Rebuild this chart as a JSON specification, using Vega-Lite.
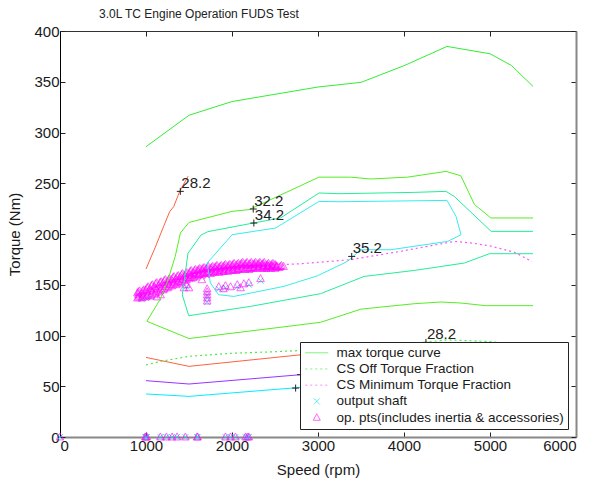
{
  "$schema": "https://vega.github.io/schema/vega-lite/v6.json",
  "autosize": "none",
  "width": 516,
  "height": 406,
  "padding": {"left": 60, "top": 31, "right": 17, "bottom": 48},
  "background": "white",
  "config": {
    "view": {"stroke": null},
    "font": "Liberation Sans",
    "axis": {
      "grid": false,
      "tickSize": -5,
      "tickColor": "#222",
      "domainColor": "#222",
      "labelFont": "Liberation Sans",
      "labelFontSize": 15,
      "labelColor": "#1a1a1a",
      "labelPadding": 6,
      "titleFont": "Liberation Sans",
      "titleFontSize": 15,
      "titleFontWeight": "normal",
      "titleColor": "#1a1a1a",
      "format": "d"
    }
  },
  "title": {
    "text": "3.0L TC Engine Operation FUDS Test",
    "anchor": "start",
    "frame": "group",
    "dx": 39,
    "offset": -6,
    "baseline": "alphabetic",
    "font": "Liberation Sans",
    "fontSize": 12,
    "fontWeight": "normal",
    "color": "#222"
  },
  "datasets": {
    "maxT": [
      {"rpm": 1000, "nm": 286}, {"rpm": 1500, "nm": 317}, {"rpm": 2000, "nm": 330.5},
      {"rpm": 3000, "nm": 344.8}, {"rpm": 3500, "nm": 349.4}, {"rpm": 4000, "nm": 365.8},
      {"rpm": 4500, "nm": 384.8}, {"rpm": 5000, "nm": 377.6}, {"rpm": 5250, "nm": 366},
      {"rpm": 5500, "nm": 345.4}
    ],
    "csOff": [
      {"rpm": 1000, "nm": 71}, {"rpm": 1200, "nm": 75}, {"rpm": 1500, "nm": 79.5},
      {"rpm": 2000, "nm": 82.5}, {"rpm": 2500, "nm": 84}, {"rpm": 3000, "nm": 86},
      {"rpm": 3500, "nm": 88.5}, {"rpm": 4000, "nm": 91}, {"rpm": 4500, "nm": 95.7},
      {"rpm": 5000, "nm": 94}, {"rpm": 5250, "nm": 91.5}, {"rpm": 5500, "nm": 87}
    ],
    "csMin": [
      {"rpm": 1000, "nm": 138}, {"rpm": 1500, "nm": 152}, {"rpm": 2000, "nm": 163},
      {"rpm": 2643, "nm": 170}, {"rpm": 2798, "nm": 170.7}, {"rpm": 3381, "nm": 174.7},
      {"rpm": 3963, "nm": 183}, {"rpm": 4585, "nm": 192.7}, {"rpm": 4799, "nm": 191},
      {"rpm": 5013, "nm": 188}, {"rpm": 5284, "nm": 182}, {"rpm": 5487, "nm": 173}
    ],
    "contours": [
      {"id": "r1", "ord": 1, "rpm": 1000, "nm": 165.5}, {"id": "r1", "ord": 2, "rpm": 1108, "nm": 187},
      {"id": "r1", "ord": 3, "rpm": 1205, "nm": 207.5}, {"id": "r1", "ord": 4, "rpm": 1275, "nm": 222},
      {"id": "r1", "ord": 5, "rpm": 1322, "nm": 227}, {"id": "r1", "ord": 6, "rpm": 1392, "nm": 242},
      {"id": "r1", "ord": 7, "rpm": 1490, "nm": 257},

      {"id": "g32", "ord": 1, "rpm": 5500, "nm": 129.4}, {"id": "g32", "ord": 2, "rpm": 4950, "nm": 129.4},
      {"id": "g32", "ord": 3, "rpm": 4663, "nm": 132}, {"id": "g32", "ord": 4, "rpm": 4430, "nm": 133},
      {"id": "g32", "ord": 5, "rpm": 4119, "nm": 131.3}, {"id": "g32", "ord": 6, "rpm": 3500, "nm": 126},
      {"id": "g32", "ord": 7, "rpm": 3030, "nm": 113}, {"id": "g32", "ord": 8, "rpm": 1500, "nm": 97},
      {"id": "g32", "ord": 9, "rpm": 1010, "nm": 114}, {"id": "g32", "ord": 10, "rpm": 1160, "nm": 135},
      {"id": "g32", "ord": 11, "rpm": 1245, "nm": 152}, {"id": "g32", "ord": 12, "rpm": 1340, "nm": 178},
      {"id": "g32", "ord": 13, "rpm": 1400, "nm": 201}, {"id": "g32", "ord": 14, "rpm": 1500, "nm": 211.4},
      {"id": "g32", "ord": 15, "rpm": 2000, "nm": 222.3}, {"id": "g32", "ord": 16, "rpm": 2200, "nm": 224},
      {"id": "g32", "ord": 17, "rpm": 3010, "nm": 256}, {"id": "g32", "ord": 18, "rpm": 3380, "nm": 256},
      {"id": "g32", "ord": 19, "rpm": 3610, "nm": 254.2}, {"id": "g32", "ord": 20, "rpm": 4040, "nm": 256},
      {"id": "g32", "ord": 21, "rpm": 4490, "nm": 261.7}, {"id": "g32", "ord": 22, "rpm": 4660, "nm": 257.4},
      {"id": "g32", "ord": 23, "rpm": 4820, "nm": 229}, {"id": "g32", "ord": 24, "rpm": 5010, "nm": 215.8},
      {"id": "g32", "ord": 25, "rpm": 5500, "nm": 215.8},

      {"id": "t34", "ord": 1, "rpm": 5500, "nm": 180.6}, {"id": "t34", "ord": 2, "rpm": 4993, "nm": 180.6},
      {"id": "t34", "ord": 3, "rpm": 4702, "nm": 171.4}, {"id": "t34", "ord": 4, "rpm": 4119, "nm": 164.1},
      {"id": "t34", "ord": 5, "rpm": 3536, "nm": 158.2}, {"id": "t34", "ord": 6, "rpm": 3030, "nm": 141.2},
      {"id": "t34", "ord": 7, "rpm": 2216, "nm": 128.7}, {"id": "t34", "ord": 8, "rpm": 1497, "nm": 119.5},
      {"id": "t34", "ord": 9, "rpm": 1422, "nm": 140}, {"id": "t34", "ord": 10, "rpm": 1488, "nm": 181},
      {"id": "t34", "ord": 11, "rpm": 1640, "nm": 199}, {"id": "t34", "ord": 12, "rpm": 1720, "nm": 202.3},
      {"id": "t34", "ord": 13, "rpm": 2196, "nm": 210}, {"id": "t34", "ord": 14, "rpm": 2565, "nm": 215.8},
      {"id": "t34", "ord": 15, "rpm": 3012, "nm": 240.4}, {"id": "t34", "ord": 16, "rpm": 3245, "nm": 239.7},
      {"id": "t34", "ord": 17, "rpm": 4119, "nm": 241}, {"id": "t34", "ord": 18, "rpm": 4488, "nm": 242},
      {"id": "t34", "ord": 19, "rpm": 4585, "nm": 237}, {"id": "t34", "ord": 20, "rpm": 5013, "nm": 202.6},
      {"id": "t34", "ord": 21, "rpm": 5500, "nm": 202.6},

      {"id": "c35", "ord": 1, "rpm": 1711, "nm": 171.4}, {"id": "c35", "ord": 2, "rpm": 2002, "nm": 199.3},
      {"id": "c35", "ord": 3, "rpm": 2507, "nm": 205.9}, {"id": "c35", "ord": 4, "rpm": 3012, "nm": 232.1},
      {"id": "c35", "ord": 5, "rpm": 3245, "nm": 231.8}, {"id": "c35", "ord": 6, "rpm": 4500, "nm": 233.1},
      {"id": "c35", "ord": 7, "rpm": 4605, "nm": 217.3}, {"id": "c35", "ord": 8, "rpm": 4663, "nm": 199.3},
      {"id": "c35", "ord": 9, "rpm": 4508, "nm": 192.7}, {"id": "c35", "ord": 10, "rpm": 3846, "nm": 184.5},
      {"id": "c35", "ord": 11, "rpm": 3497, "nm": 184.5}, {"id": "c35", "ord": 12, "rpm": 3343, "nm": 173},
      {"id": "c35", "ord": 13, "rpm": 2993, "nm": 158.8}, {"id": "c35", "ord": 14, "rpm": 2604, "nm": 148.4},
      {"id": "c35", "ord": 15, "rpm": 2021, "nm": 138.5}, {"id": "c35", "ord": 16, "rpm": 1845, "nm": 140.2},
      {"id": "c35", "ord": 17, "rpm": 1749, "nm": 151.7}, {"id": "c35", "ord": 18, "rpm": 1711, "nm": 171.4},

      {"id": "r2", "ord": 1, "rpm": 1000, "nm": 78.4}, {"id": "r2", "ord": 2, "rpm": 1500, "nm": 69.6},
      {"id": "r2", "ord": 3, "rpm": 2800, "nm": 81}, {"id": "r2", "ord": 4, "rpm": 3500, "nm": 83.5},
      {"id": "r2", "ord": 5, "rpm": 4500, "nm": 87}, {"id": "r2", "ord": 6, "rpm": 5500, "nm": 86},

      {"id": "p", "ord": 1, "rpm": 1000, "nm": 55.5}, {"id": "p", "ord": 2, "rpm": 1500, "nm": 52.2},
      {"id": "p", "ord": 3, "rpm": 2800, "nm": 61.4}, {"id": "p", "ord": 4, "rpm": 3500, "nm": 64},
      {"id": "p", "ord": 5, "rpm": 4500, "nm": 67}, {"id": "p", "ord": 6, "rpm": 5500, "nm": 68},

      {"id": "cl", "ord": 1, "rpm": 1000, "nm": 42.4}, {"id": "cl", "ord": 2, "rpm": 1500, "nm": 40},
      {"id": "cl", "ord": 3, "rpm": 2800, "nm": 48.9}, {"id": "cl", "ord": 4, "rpm": 3500, "nm": 51},
      {"id": "cl", "ord": 5, "rpm": 4500, "nm": 54}, {"id": "cl", "ord": 6, "rpm": 5500, "nm": 55}
    ],
    "ops": [
      {"rpm":900,"nm":137},{"rpm":925,"nm":139},{"rpm":900,"nm":142},{"rpm":925,"nm":144},
      {"rpm":950,"nm":137},{"rpm":975,"nm":140},{"rpm":950,"nm":142},{"rpm":975,"nm":145},
      {"rpm":1000,"nm":138},{"rpm":1025,"nm":141},{"rpm":1000,"nm":145},{"rpm":1025,"nm":148},
      {"rpm":1050,"nm":139},{"rpm":1075,"nm":143},{"rpm":1050,"nm":146},{"rpm":1075,"nm":150},
      {"rpm":1100,"nm":141},{"rpm":1125,"nm":145},{"rpm":1100,"nm":148},{"rpm":1125,"nm":152},
      {"rpm":1150,"nm":143},{"rpm":1175,"nm":146},{"rpm":1150,"nm":150},{"rpm":1175,"nm":153},
      {"rpm":1200,"nm":145},{"rpm":1225,"nm":148},{"rpm":1200,"nm":152},{"rpm":1225,"nm":155},
      {"rpm":1250,"nm":147},{"rpm":1275,"nm":150},{"rpm":1250,"nm":153},{"rpm":1275,"nm":156},
      {"rpm":1300,"nm":149},{"rpm":1325,"nm":152},{"rpm":1300,"nm":155},{"rpm":1325,"nm":158},
      {"rpm":1350,"nm":150},{"rpm":1375,"nm":153},{"rpm":1350,"nm":156},{"rpm":1375,"nm":159},
      {"rpm":1400,"nm":152},{"rpm":1425,"nm":155},{"rpm":1400,"nm":158},{"rpm":1425,"nm":161},
      {"rpm":1450,"nm":154},{"rpm":1475,"nm":157},{"rpm":1450,"nm":159},{"rpm":1475,"nm":162},
      {"rpm":1500,"nm":156},{"rpm":1525,"nm":159},{"rpm":1500,"nm":161},{"rpm":1525,"nm":164},
      {"rpm":1550,"nm":157},{"rpm":1575,"nm":160},{"rpm":1550,"nm":162},{"rpm":1575,"nm":165},
      {"rpm":1600,"nm":159},{"rpm":1625,"nm":161},{"rpm":1600,"nm":164},{"rpm":1625,"nm":166},
      {"rpm":1650,"nm":160},{"rpm":1675,"nm":162},{"rpm":1650,"nm":165},{"rpm":1675,"nm":167},
      {"rpm":1700,"nm":161},{"rpm":1725,"nm":163},{"rpm":1700,"nm":166},{"rpm":1725,"nm":168},
      {"rpm":1750,"nm":161},{"rpm":1775,"nm":163},{"rpm":1750,"nm":166},{"rpm":1775,"nm":168},
      {"rpm":1800,"nm":162},{"rpm":1825,"nm":164},{"rpm":1800,"nm":167},{"rpm":1825,"nm":169},
      {"rpm":1850,"nm":162},{"rpm":1875,"nm":164},{"rpm":1850,"nm":167},{"rpm":1875,"nm":169},
      {"rpm":1900,"nm":163},{"rpm":1925,"nm":165},{"rpm":1900,"nm":168},{"rpm":1925,"nm":170},
      {"rpm":1950,"nm":163},{"rpm":1975,"nm":165},{"rpm":1950,"nm":168},{"rpm":1975,"nm":170},
      {"rpm":2000,"nm":164},{"rpm":2025,"nm":166},{"rpm":2000,"nm":169},{"rpm":2025,"nm":171},
      {"rpm":2050,"nm":164},{"rpm":2075,"nm":166},{"rpm":2050,"nm":169},{"rpm":2075,"nm":171},
      {"rpm":2100,"nm":165},{"rpm":2125,"nm":167},{"rpm":2100,"nm":170},{"rpm":2125,"nm":172},
      {"rpm":2150,"nm":165},{"rpm":2175,"nm":167},{"rpm":2150,"nm":170},{"rpm":2175,"nm":172},
      {"rpm":2200,"nm":165},{"rpm":2225,"nm":167},{"rpm":2200,"nm":170},{"rpm":2225,"nm":172},
      {"rpm":2250,"nm":166},{"rpm":2275,"nm":168},{"rpm":2250,"nm":170},{"rpm":2275,"nm":172},
      {"rpm":2300,"nm":166},{"rpm":2325,"nm":168},{"rpm":2300,"nm":170},{"rpm":2325,"nm":172},
      {"rpm":2350,"nm":166},{"rpm":2375,"nm":168},{"rpm":2350,"nm":170},{"rpm":2375,"nm":172},
      {"rpm":2400,"nm":166},{"rpm":2425,"nm":168},{"rpm":2400,"nm":169},{"rpm":2425,"nm":171},
      {"rpm":2450,"nm":166},{"rpm":2475,"nm":168},{"rpm":2450,"nm":169},{"rpm":2475,"nm":171},
      {"rpm":2500,"nm":166},{"rpm":2525,"nm":168},{"rpm":2500,"nm":170},
      {"rpm":2550,"nm":167},{"rpm":2575,"nm":169},{"rpm":2600,"nm":168},
      {"rpm":912,"nm":138},{"rpm":912,"nm":140.5},{"rpm":912,"nm":143},
      {"rpm":962,"nm":138},{"rpm":962,"nm":141},{"rpm":962,"nm":144},
      {"rpm":1012,"nm":139},{"rpm":1012,"nm":143},{"rpm":1012,"nm":147},
      {"rpm":1062,"nm":140},{"rpm":1062,"nm":144.5},{"rpm":1062,"nm":149},
      {"rpm":1112,"nm":142},{"rpm":1112,"nm":146.5},{"rpm":1112,"nm":151},
      {"rpm":1162,"nm":144},{"rpm":1162,"nm":148},{"rpm":1162,"nm":152},
      {"rpm":1212,"nm":146},{"rpm":1212,"nm":150},{"rpm":1212,"nm":154},
      {"rpm":1262,"nm":148},{"rpm":1262,"nm":151.5},{"rpm":1262,"nm":155},
      {"rpm":1312,"nm":150},{"rpm":1312,"nm":153.5},{"rpm":1312,"nm":157},
      {"rpm":1362,"nm":151},{"rpm":1362,"nm":154.5},{"rpm":1362,"nm":158},
      {"rpm":1412,"nm":153},{"rpm":1412,"nm":156.5},{"rpm":1412,"nm":160},
      {"rpm":1462,"nm":155},{"rpm":1462,"nm":158},{"rpm":1462,"nm":161},
      {"rpm":1512,"nm":157},{"rpm":1512,"nm":160},{"rpm":1512,"nm":163},
      {"rpm":1562,"nm":158},{"rpm":1562,"nm":161},{"rpm":1562,"nm":164},
      {"rpm":1612,"nm":160},{"rpm":1612,"nm":162.5},{"rpm":1612,"nm":165},
      {"rpm":1662,"nm":161},{"rpm":1662,"nm":163.5},{"rpm":1662,"nm":166},
      {"rpm":1712,"nm":162},{"rpm":1712,"nm":164.5},{"rpm":1712,"nm":167},
      {"rpm":1762,"nm":162},{"rpm":1762,"nm":164.5},{"rpm":1762,"nm":167},
      {"rpm":1812,"nm":163},{"rpm":1812,"nm":165.5},{"rpm":1812,"nm":168},
      {"rpm":1862,"nm":163},{"rpm":1862,"nm":165.5},{"rpm":1862,"nm":168},
      {"rpm":1912,"nm":164},{"rpm":1912,"nm":166.5},{"rpm":1912,"nm":169},
      {"rpm":1962,"nm":164},{"rpm":1962,"nm":166.5},{"rpm":1962,"nm":169},
      {"rpm":2012,"nm":165},{"rpm":2012,"nm":167.5},{"rpm":2012,"nm":170},
      {"rpm":2062,"nm":165},{"rpm":2062,"nm":167.5},{"rpm":2062,"nm":170},
      {"rpm":2112,"nm":166},{"rpm":2112,"nm":168.5},{"rpm":2112,"nm":171},
      {"rpm":2162,"nm":166},{"rpm":2162,"nm":168.5},{"rpm":2162,"nm":171},
      {"rpm":2212,"nm":166},{"rpm":2212,"nm":168.5},{"rpm":2212,"nm":171},
      {"rpm":2262,"nm":167},{"rpm":2262,"nm":169},{"rpm":2262,"nm":171},
      {"rpm":2312,"nm":167},{"rpm":2312,"nm":169},{"rpm":2312,"nm":171},
      {"rpm":2362,"nm":167},{"rpm":2362,"nm":169},{"rpm":2362,"nm":171},
      {"rpm":2412,"nm":167},{"rpm":2412,"nm":168.5},{"rpm":2412,"nm":170},
      {"rpm":2462,"nm":167},{"rpm":2462,"nm":168.5},{"rpm":2462,"nm":170},
      {"rpm":2512,"nm":167},{"rpm":2512,"nm":168},{"rpm":2512,"nm":169},
      {"rpm":2562,"nm":168},
      {"rpm":1711,"nm":134},{"rpm":1711,"nm":137},{"rpm":1711,"nm":140},{"rpm":1711,"nm":143},{"rpm":1711,"nm":146},
      {"rpm":1440,"nm":147},{"rpm":1470,"nm":150},{"rpm":1500,"nm":147},{"rpm":1650,"nm":155},
      {"rpm":1846,"nm":148},{"rpm":1900,"nm":146},{"rpm":1924,"nm":149},{"rpm":1983,"nm":148},
      {"rpm":2061,"nm":150},{"rpm":2100,"nm":147},{"rpm":2138,"nm":151},{"rpm":2196,"nm":152},
      {"rpm":2332,"nm":156},{"rpm":1130,"nm":138},{"rpm":1170,"nm":140},
      {"rpm":0,"nm":0},{"rpm":990,"nm":0},{"rpm":1000,"nm":0},{"rpm":1010,"nm":0},{"rpm":1167,"nm":0},
      {"rpm":1237,"nm":0},{"rpm":1303,"nm":0},{"rpm":1361,"nm":0},{"rpm":1458,"nm":0},{"rpm":1594,"nm":0},
      {"rpm":1600,"nm":0},{"rpm":1924,"nm":0},{"rpm":1983,"nm":0},{"rpm":2040,"nm":0},{"rpm":2157,"nm":0},
      {"rpm":2180,"nm":0},{"rpm":2196,"nm":0}
    ],
    "shaft": [
      {"rpm":0,"nm":0},{"rpm":990,"nm":0},{"rpm":1000,"nm":0},{"rpm":1010,"nm":0},{"rpm":1167,"nm":0},
      {"rpm":1237,"nm":0},{"rpm":1303,"nm":0},{"rpm":1361,"nm":0},{"rpm":1458,"nm":0},{"rpm":1594,"nm":0},
      {"rpm":1600,"nm":0},{"rpm":1924,"nm":0},{"rpm":1983,"nm":0},{"rpm":2040,"nm":0},{"rpm":2157,"nm":0},
      {"rpm":2180,"nm":0},{"rpm":2196,"nm":0},
      {"rpm":950,"nm":136},{"rpm":1000,"nm":137},{"rpm":1050,"nm":138},{"rpm":1711,"nm":133},
      {"rpm":1711,"nm":139},{"rpm":1846,"nm":146},{"rpm":1924,"nm":147},{"rpm":2061,"nm":148},
      {"rpm":2196,"nm":150},{"rpm":2332,"nm":154},{"rpm":1470,"nm":148}
    ],
    "plus": [
      {"rpm": 1399, "nm": 242}, {"rpm": 2247, "nm": 224.6}, {"rpm": 2254, "nm": 210.8},
      {"rpm": 3392, "nm": 177.9}, {"rpm": 4255, "nm": 93.2}, {"rpm": 2740, "nm": 48.2},
      {"rpm": 2798, "nm": 61.4}
    ],
    "labels": [
      {"rpm": 1399, "nm": 242, "lab": "28.2"}, {"rpm": 2247, "nm": 224.6, "lab": "32.2"},
      {"rpm": 2254, "nm": 210.8, "lab": "34.2"}, {"rpm": 3392, "nm": 177.9, "lab": "35.2"},
      {"rpm": 4255, "nm": 93.2, "lab": "28.2"}
    ]
  },
  "layer": [
    {
      "data": {"name": "shaft"},
      "mark": {"type": "point", "shape": "M-1,-1L1,1M-1,1L1,-1", "filled": false, "size": 36, "strokeWidth": 1, "color": "#00e0e0"},
      "encoding": {
        "x": {"field": "rpm", "type": "quantitative",
              "scale": {"domain": [0, 6000], "nice": false, "zero": false},
              "axis": {"orient": "bottom", "values": [0, 1000, 2000, 3000, 4000, 5000, 6000], "title": "Speed (rpm)", "titlePadding": 9, "domainColor": "#888", "domainWidth": 2}},
        "y": {"field": "nm", "type": "quantitative",
              "scale": {"domain": [0, 400], "nice": false, "zero": false},
              "axis": {"orient": "left", "values": [0, 50, 100, 150, 200, 250, 300, 350, 400], "title": "Torque (Nm)", "titlePadding": 11, "domainColor": "#000"}}
      }
    },
    {
      "data": {"name": "ops"},
      "mark": {"type": "point", "filled": false, "size": 115, "strokeWidth": 1},
      "encoding": {
        "x": {"field": "rpm", "type": "quantitative",
              "axis": {"orient": "top", "values": [0, 1000, 2000, 3000, 4000, 5000, 6000], "labels": false, "title": null, "domainColor": "#333"}},
        "y": {"field": "nm", "type": "quantitative",
              "axis": {"orient": "right", "values": [0, 50, 100, 150, 200, 250, 300, 350, 400], "labels": false, "title": null, "domainColor": "#888", "domainWidth": 2}},
        "color": {
          "datum": "op. pts(includes inertia & accessories)",
          "type": "nominal",
          "scale": {
            "domain": ["max torque curve", "CS Off Torque Fraction", "CS Minimum Torque Fraction", "output shaft", "op. pts(includes inertia & accessories)"],
            "range": ["#33ee33", "#44ee44", "#ff55ff", "#00e0e0", "#ff00ff"]
          },
          "legend": {
            "title": null, "orient": "bottom-right", "offset": 8,
            "fillColor": "white", "strokeColor": "#222", "padding": 4,
            "labelFont": "Liberation Sans", "labelFontSize": 13.5, "labelColor": "#1a1a1a", "labelLimit": 400,
            "symbolSize": 100, "symbolOffset": 6, "labelOffset": 13, "rowPadding": 1.2, "symbolStrokeWidth": 1
          }
        },
        "shape": {
          "datum": "op. pts(includes inertia & accessories)",
          "type": "nominal",
          "scale": {
            "domain": ["max torque curve", "CS Off Torque Fraction", "CS Minimum Torque Fraction", "output shaft", "op. pts(includes inertia & accessories)"],
            "range": ["M-2.3,0L2.3,0", "M-2.3,0L2.3,0", "M-2.3,0L2.3,0", "M-0.6,-0.6L0.6,0.6M-0.6,0.6L0.6,-0.6", "M0,-0.75L0.7,0.55L-0.7,0.55Z"]
          },
          "legend": {
            "title": null, "orient": "bottom-right", "offset": 8,
            "fillColor": "white", "strokeColor": "#222", "padding": 4,
            "labelFont": "Liberation Sans", "labelFontSize": 13.5, "labelColor": "#1a1a1a", "labelLimit": 400,
            "symbolSize": 100, "symbolOffset": 6, "labelOffset": 13, "rowPadding": 1.2, "symbolStrokeWidth": 1
          }
        },
        "strokeDash": {
          "datum": "op. pts(includes inertia & accessories)",
          "type": "nominal",
          "scale": {
            "domain": ["max torque curve", "CS Off Torque Fraction", "CS Minimum Torque Fraction", "output shaft", "op. pts(includes inertia & accessories)"],
            "range": [[1, 0], [2, 3], [2, 3], [1, 0], [1, 0]]
          },
          "legend": {
            "title": null, "orient": "bottom-right", "offset": 8,
            "fillColor": "white", "strokeColor": "#222", "padding": 4,
            "labelFont": "Liberation Sans", "labelFontSize": 13.5, "labelColor": "#1a1a1a", "labelLimit": 400,
            "symbolSize": 100, "symbolOffset": 6, "labelOffset": 13, "rowPadding": 1.2, "symbolStrokeWidth": 1
          }
        }
      }
    },
    {
      "data": {"name": "contours"},
      "mark": {"type": "line", "strokeWidth": 1},
      "encoding": {
        "x": {"field": "rpm", "type": "quantitative", "axis": null},
        "y": {"field": "nm", "type": "quantitative", "axis": null},
        "stroke": {"field": "id", "type": "nominal",
                   "scale": {"domain": ["r1", "g32", "t34", "c35", "r2", "p", "cl"],
                             "range": ["#ff6040", "#55ee22", "#22ee99", "#33eeee", "#ff6040", "#9933ff", "#00eeff"]},
                   "legend": null},
        "order": {"field": "ord", "type": "quantitative"}
      }
    },
    {
      "data": {"name": "maxT"},
      "mark": {"type": "line", "strokeWidth": 1, "color": "#33ee33"},
      "encoding": {
        "x": {"field": "rpm", "type": "quantitative", "axis": null},
        "y": {"field": "nm", "type": "quantitative", "axis": null}
      }
    },
    {
      "data": {"name": "csOff"},
      "mark": {"type": "line", "strokeWidth": 1.2, "strokeDash": [2, 3], "color": "#44ee44"},
      "encoding": {
        "x": {"field": "rpm", "type": "quantitative", "axis": null},
        "y": {"field": "nm", "type": "quantitative", "axis": null}
      }
    },
    {
      "data": {"name": "csMin"},
      "mark": {"type": "line", "strokeWidth": 1.2, "strokeDash": [2, 3], "color": "#ff55ff"},
      "encoding": {
        "x": {"field": "rpm", "type": "quantitative", "axis": null},
        "y": {"field": "nm", "type": "quantitative", "axis": null}
      }
    },
    {
      "data": {"name": "plus"},
      "mark": {"type": "point", "shape": "M-1,0L1,0M0,-1L0,1", "filled": false, "size": 49, "strokeWidth": 1, "color": "#222", "opacity": 1},
      "encoding": {
        "x": {"field": "rpm", "type": "quantitative", "axis": null},
        "y": {"field": "nm", "type": "quantitative", "axis": null}
      }
    },
    {
      "data": {"name": "labels"},
      "mark": {"type": "text", "align": "left", "baseline": "alphabetic", "dx": 1, "dy": -3, "font": "Liberation Sans", "fontSize": 15, "color": "#222"},
      "encoding": {
        "x": {"field": "rpm", "type": "quantitative", "axis": null},
        "y": {"field": "nm", "type": "quantitative", "axis": null},
        "text": {"field": "lab"}
      }
    }
  ]
}
